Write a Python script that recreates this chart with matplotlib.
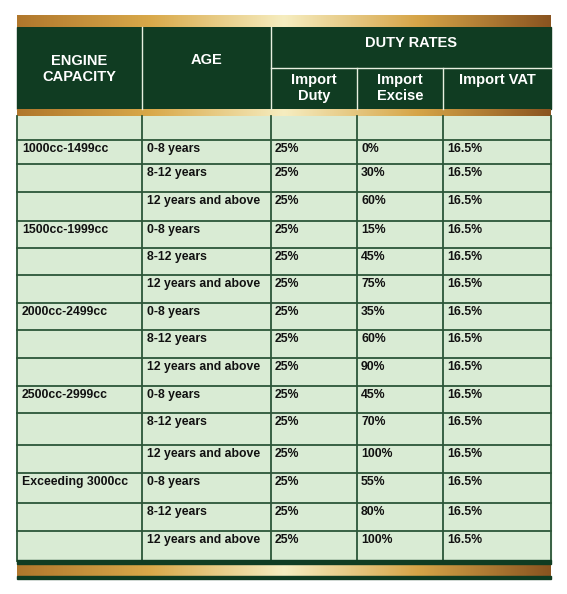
import matplotlib.pyplot as plt
import numpy as np
from matplotlib.colors import LinearSegmentedColormap

capacity = ['1000cc-1499cc', '1500cc-1999cc', '2000cc-2499cc', '2500cc-2999cc', 'Exceeding 3000cc']
ages = ['0-8 years', '8-12 years', '12 years and above']
import_duty = ['25%'] * 15
import_excise = ['0%', '30%', '60%', '15%', '45%', '75%', '35%', '60%', '90%',
                 '45%', '70%', '100%', '55%', '80%', '100%']
import_vat = ['16.5%'] * 15

DARK = '#103c22'
LIGHT = '#d9ebd4'
LINE = '#2c5638'
gold = LinearSegmentedColormap.from_list('gold', ['#b0772c', '#d9a94a', '#f6edc0', '#d6a548', '#8a5420'])

fig = plt.figure(figsize=(5.67, 5.94), dpi=100)
ax = fig.add_axes([0, 0, 1, 1])
ax.set_xlim(0, 567)
ax.set_ylim(594, 0)
ax.axis('off')

L, R = 17, 551
cols = [L, 142, 271, 357, 443, R]
rows = [140, 164, 192, 221, 248, 275, 303, 330, 358, 386, 413, 445, 473, 503, 531, 561]

def gold_bar(y0, y1):
    grad = np.linspace(0, 1, 256).reshape(1, -1)
    ax.imshow(grad, cmap=gold, extent=[L, R, y1, y0], aspect='auto', zorder=2)

# header
ax.add_patch(plt.Rectangle((L, 27), R - L, 82, color=DARK, zorder=1))
gold_bar(15, 27)
gold_bar(109, 116)
for x in cols[1:-1]:
    y0 = 27 if x == cols[1] or x == cols[2] else 68
    ax.plot([x, x], [y0, 109], color='#e8efe0', lw=1, zorder=3)
ax.plot([cols[2], R], [68, 68], color='#e8efe0', lw=1, zorder=3)

hfont = dict(color='white', fontsize=10.5, fontweight='bold', family='Liberation Sans',
             ha='center', va='center', zorder=4)
ax.text((cols[0] + cols[1]) / 2, 69, 'ENGINE\nCAPACITY', linespacing=1.1, **hfont)
ax.text((cols[1] + cols[2]) / 2, 60, 'AGE', **hfont)
ax.text((cols[2] + R) / 2, 43, 'DUTY RATES', **hfont)
for i, s in enumerate(['Import\nDuty', 'Import\nExcise', 'Import VAT']):
    yy = 88 if '\n' in s else 80
    ax.text((cols[2 + i] + cols[3 + i]) / 2, yy, s, linespacing=1.1, **hfont)

# body
ax.add_patch(plt.Rectangle((L, 116), R - L, 561 - 116, color=LIGHT, zorder=1))
for y in rows[:-1]:
    ax.plot([L, R], [y, y], color=LINE, lw=1.3, zorder=3)
for x in cols:
    ax.plot([x, x], [116, 561], color=LINE, lw=1.3, zorder=3)
ax.add_patch(plt.Rectangle((L, 560), R - L, 4, color=DARK, zorder=3))
gold_bar(564, 576)
ax.add_patch(plt.Rectangle((L, 576), R - L, 3, color=DARK, zorder=3))

bfont = dict(color='#111111', fontsize=8.8, fontweight='bold', family='Liberation Sans',
             ha='left', va='center', zorder=4)
for i in range(15):
    yc = rows[i] + 9
    if i % 3 == 0:
        ax.text(cols[0] + 5, yc, capacity[i // 3], **bfont)
    ax.text(cols[1] + 5, yc, ages[i % 3], **bfont)
    ax.text(cols[2] + 4, yc, import_duty[i], **bfont)
    ax.text(cols[3] + 4, yc, import_excise[i], **bfont)
    ax.text(cols[4] + 4, yc, import_vat[i], **bfont)

fig.savefig('out.png', dpi=100, facecolor='white')
